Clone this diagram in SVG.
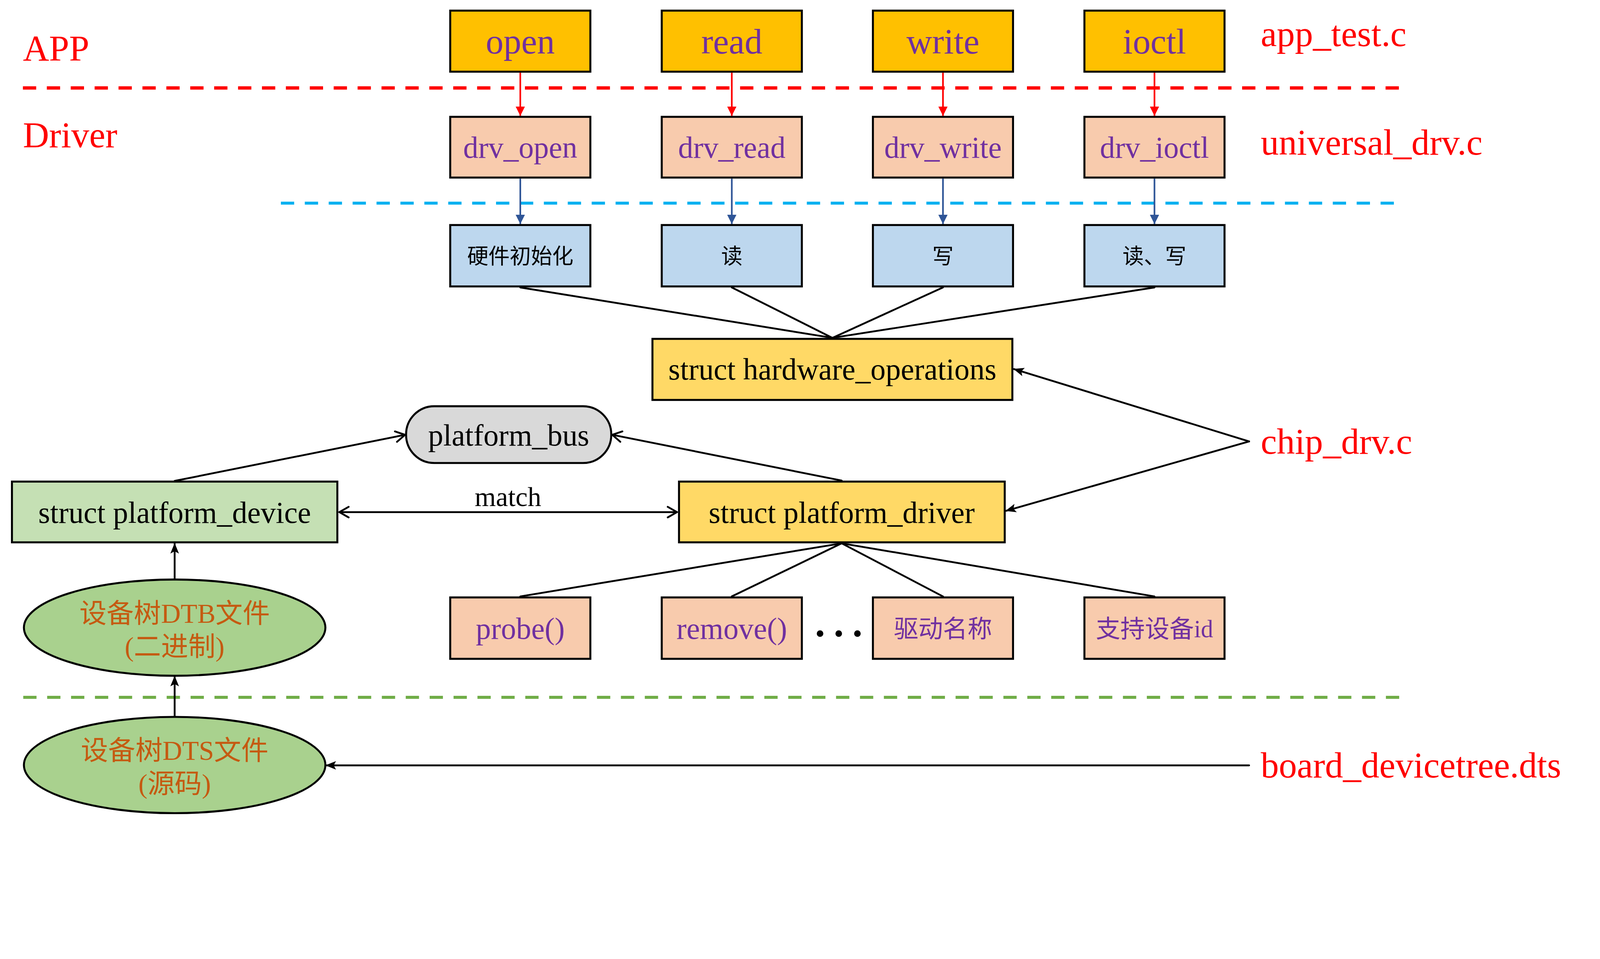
<svg xmlns="http://www.w3.org/2000/svg" width="4821" height="2456" viewBox="0 0 4821 2456">
<style>
.box{stroke:#000;stroke-width:6}
.app{fill:#FFC000}
.drv{fill:#F8CBAD}
.hw{fill:#BDD7EE}
.st{fill:#FFD966}
.t{font-family:"Liberation Serif","Noto Sans CJK SC",serif;text-anchor:middle}
.cj{font-family:"Liberation Serif","Noto Sans CJK SC",sans-serif;text-anchor:middle}
.pu{fill:#7030A0}
.red{fill:#FF0000;font-family:"Liberation Serif",serif;font-size:109px}
.ln{stroke:#000;stroke-width:5.5;fill:none;stroke-linecap:round}
.dash{fill:none;stroke-dasharray:40 32}
</style>
<defs>
<marker id="ar" markerUnits="userSpaceOnUse" markerWidth="28" markerHeight="28" viewBox="0 0 26 26" refX="26" refY="13" orient="auto"><path d="M0,0 L26,13 L0,26 z" fill="#FF0000"/></marker>
<marker id="ab" markerUnits="userSpaceOnUse" markerWidth="28" markerHeight="28" viewBox="0 0 26 26" refX="26" refY="13" orient="auto"><path d="M0,0 L26,13 L0,26 z" fill="#2F5597"/></marker>
<marker id="af" markerUnits="userSpaceOnUse" markerWidth="32" markerHeight="28" viewBox="0 0 32 28" refX="30" refY="14" orient="auto"><path d="M0,1 L32,14 L0,27 L7,14 z" fill="#000"/></marker>
<marker id="ao" markerUnits="userSpaceOnUse" markerWidth="40" markerHeight="40" viewBox="0 0 40 40" refX="34" refY="20" orient="auto"><path d="M6,4 L34,20 L6,36" fill="none" stroke="#000" stroke-width="5.5" stroke-linecap="round" stroke-linejoin="round"/></marker>
<marker id="aos" markerUnits="userSpaceOnUse" markerWidth="40" markerHeight="40" viewBox="0 0 40 40" refX="6" refY="20" orient="auto"><path d="M34,4 L6,20 L34,36" fill="none" stroke="#000" stroke-width="5.5" stroke-linecap="round" stroke-linejoin="round"/></marker>
</defs>
<g id="diagram" transform="scale(0.85)">
<g id="separators">
<line class="dash" x1="69" y1="265" x2="4227" y2="265" stroke="#FF0000" stroke-width="10"/>
<line class="dash" x1="846" y1="612" x2="4206" y2="612" stroke="#00B0F0" stroke-width="9"/>
<line class="dash" x1="70" y1="2101" x2="4227" y2="2101" stroke="#70AD47" stroke-width="9"/>
</g>

<g id="labels">
<text class="red" x="69" y="182">APP</text>
<text class="red" x="69" y="443">Driver</text>
<text class="red" x="3797" y="139">app_test.c</text>
<text class="red" x="3797" y="466">universal_drv.c</text>
<text class="red" x="3797" y="1367">chip_drv.c</text>
<text class="red" x="3797" y="2342">board_devicetree.dts</text>
</g>

<g id="connectors">
<line x1="1567" y1="219" x2="1567" y2="349" stroke="#FF0000" stroke-width="5" marker-end="url(#ar)"/>
<line x1="2204" y1="219" x2="2204" y2="349" stroke="#FF0000" stroke-width="5" marker-end="url(#ar)"/>
<line x1="2840" y1="219" x2="2840" y2="349" stroke="#FF0000" stroke-width="5" marker-end="url(#ar)"/>
<line x1="3477" y1="219" x2="3477" y2="349" stroke="#FF0000" stroke-width="5" marker-end="url(#ar)"/>
<line x1="1567" y1="538" x2="1567" y2="675" stroke="#2F5597" stroke-width="5" marker-end="url(#ab)"/>
<line x1="2204" y1="538" x2="2204" y2="675" stroke="#2F5597" stroke-width="5" marker-end="url(#ab)"/>
<line x1="2840" y1="538" x2="2840" y2="675" stroke="#2F5597" stroke-width="5" marker-end="url(#ab)"/>
<line x1="3477" y1="538" x2="3477" y2="675" stroke="#2F5597" stroke-width="5" marker-end="url(#ab)"/>
<path class="ln" d="M1567,866 L2507,1018 M2204,866 L2507,1018 M2840,866 L2507,1018 M3477,866 L2507,1018"/>
<path class="ln" d="M2535,1637 L1567,1797 M2535,1637 L2204,1797 M2535,1637 L2840,1797 M2535,1637 L3477,1797"/>
<line class="ln" x1="526" y1="1449" x2="1220" y2="1310" marker-end="url(#ao)"/>
<line class="ln" x1="2535" y1="1448" x2="1844" y2="1310" marker-end="url(#ao)"/>
<line class="ln" x1="1022" y1="1543" x2="2039" y2="1543" marker-start="url(#aos)" marker-end="url(#ao)"/>
<line class="ln" x1="3762" y1="1330" x2="3054" y2="1112" marker-end="url(#af)"/>
<line class="ln" x1="3762" y1="1330" x2="3030" y2="1539" marker-end="url(#af)"/>
<line class="ln" x1="526" y1="1745" x2="526" y2="1638" marker-end="url(#af)"/>
<line class="ln" x1="526" y1="2159" x2="526" y2="2038" marker-end="url(#af)"/>
<line class="ln" x1="3762" y1="2306" x2="982" y2="2306" marker-end="url(#af)"/>
<text class="t" x="1530" y="1525" font-size="82">match</text>
</g>

<g id="open"><rect class="box app" x="1356" y="32" width="422" height="184"/><text class="t pu" x="1567" y="161" font-size="107">open</text></g>
<g id="read"><rect class="box app" x="1993" y="32" width="422" height="184"/><text class="t pu" x="2204" y="161" font-size="107">read</text></g>
<g id="write"><rect class="box app" x="2629" y="32" width="422" height="184"/><text class="t pu" x="2840" y="161" font-size="107">write</text></g>
<g id="ioctl"><rect class="box app" x="3266" y="32" width="422" height="184"/><text class="t pu" x="3477" y="161" font-size="107">ioctl</text></g>

<g id="drv_open"><rect class="box drv" x="1356" y="352" width="422" height="183"/><text class="t pu" x="1567" y="475" font-size="91">drv_open</text></g>
<g id="drv_read"><rect class="box drv" x="1993" y="352" width="422" height="183"/><text class="t pu" x="2204" y="475" font-size="91">drv_read</text></g>
<g id="drv_write"><rect class="box drv" x="2629" y="352" width="422" height="183"/><text class="t pu" x="2840" y="475" font-size="91">drv_write</text></g>
<g id="drv_ioctl"><rect class="box drv" x="3266" y="352" width="422" height="183"/><text class="t pu" x="3477" y="475" font-size="91">drv_ioctl</text></g>

<g id="hw_init"><rect class="box hw" x="1356" y="678" width="422" height="185"/><text class="cj" x="1567" y="794" font-size="64">硬件初始化</text></g>
<g id="hw_read"><rect class="box hw" x="1993" y="678" width="422" height="185"/><text class="cj" x="2204" y="794" font-size="64">读</text></g>
<g id="hw_write"><rect class="box hw" x="2629" y="678" width="422" height="185"/><text class="cj" x="2840" y="794" font-size="64">写</text></g>
<g id="hw_rw"><rect class="box hw" x="3266" y="678" width="422" height="185"/><text class="cj" x="3477" y="794" font-size="64">读、写</text></g>

<g id="hardware_operations"><rect class="box st" x="1965" y="1021" width="1084" height="184"/><text class="t" x="2507" y="1144" font-size="91">struct hardware_operations</text></g>

<g id="platform_bus"><rect class="box" fill="#D9D9D9" x="1223" y="1224" width="618" height="171" rx="85" ry="85"/><text class="t" x="1532" y="1342" font-size="91">platform_bus</text></g>

<g id="platform_device"><rect class="box" fill="#C5E0B4" x="36" y="1451" width="980" height="183"/><text class="t" x="526" y="1575" font-size="91">struct platform_device</text></g>

<g id="platform_driver"><rect class="box st" x="2045" y="1451" width="981" height="183"/><text class="t" x="2535" y="1575" font-size="91">struct platform_driver</text></g>

<g id="probe"><rect class="box drv" x="1356" y="1800" width="422" height="185"/><text class="t pu" x="1567" y="1925" font-size="91">probe()</text></g>
<g id="remove"><rect class="box drv" x="1993" y="1800" width="422" height="185"/><text class="t pu" x="2204" y="1925" font-size="91">remove()</text></g>
<g id="ellipsis"><text class="t" x="2526" y="1916" font-size="168">…</text></g>
<g id="driver_name"><rect class="box drv" x="2629" y="1800" width="422" height="185"/><text class="cj pu" x="2840" y="1920" font-size="74">驱动名称</text></g>
<g id="device_id"><rect class="box drv" x="3266" y="1800" width="422" height="185"/><text class="cj pu" x="3477" y="1920" font-size="74">支持设备id</text></g>

<g id="dtb"><ellipse cx="526" cy="1891" rx="454" ry="145" fill="#A9D18E" stroke="#000" stroke-width="6"/><text class="cj" fill="#C55A11" font-size="82"><tspan x="526" y="1876">设备树DTB文件</tspan><tspan x="526" y="1976">(二进制)</tspan></text></g>

<g id="dts"><ellipse cx="526" cy="2305" rx="454" ry="145" fill="#A9D18E" stroke="#000" stroke-width="6"/><text class="cj" fill="#C55A11" font-size="82"><tspan x="526" y="2290">设备树DTS文件</tspan><tspan x="526" y="2390">(源码)</tspan></text></g>
</g>
</svg>
